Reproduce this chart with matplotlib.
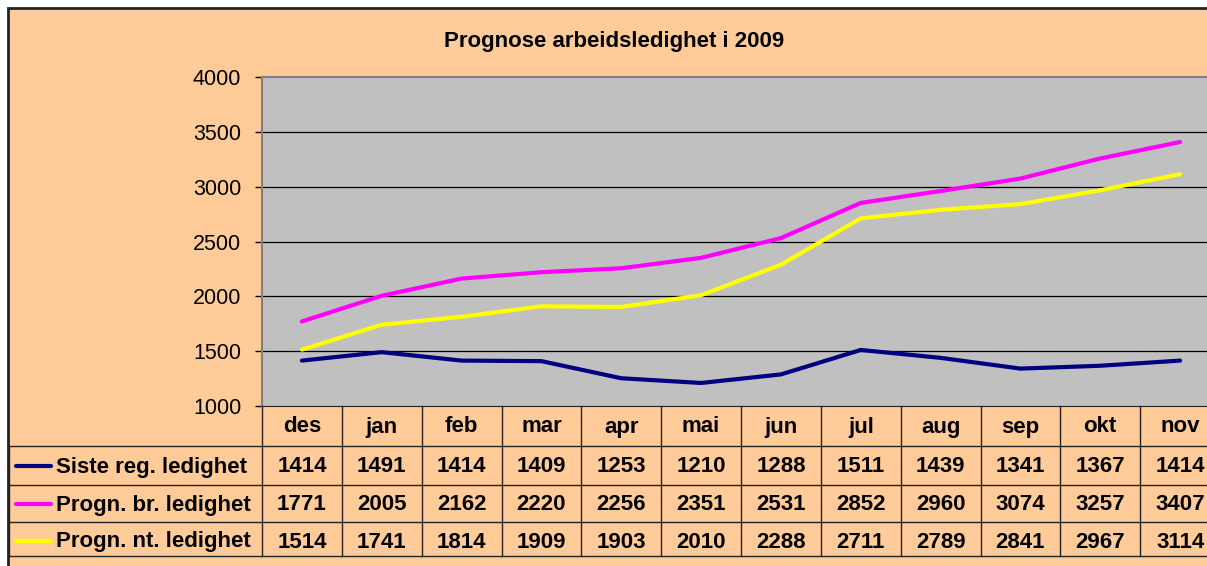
import matplotlib
matplotlib.use("Agg")
import matplotlib.pyplot as plt
import matplotlib.transforms as mtransforms
from matplotlib.lines import Line2D
from matplotlib.patches import Rectangle

# data
months = ["des", "jan", "feb", "mar", "apr", "mai", "jun", "jul", "aug", "sep", "okt", "nov"]
siste_reg = [1414, 1491, 1414, 1409, 1253, 1210, 1288, 1511, 1439, 1341, 1367, 1414]
progn_br = [1771, 2005, 2162, 2220, 2256, 2351, 2531, 2852, 2960, 3074, 3257, 3407]
progn_nt = [1514, 1741, 1814, 1909, 1903, 2010, 2288, 2711, 2789, 2841, 2967, 3114]
series_names = ["Siste reg. ledighet", "Progn. br. ledighet", "Progn. nt. ledighet"]
series_colors = ["#000080", "#FF00FF", "#FFFF00"]
title = "Prognose arbeidsledighet i 2009"

plt.rcParams['font.family'] = ['Liberation Sans', 'DejaVu Sans']

W, H = 1207, 566
fig = plt.figure(figsize=(W / 100, H / 100), dpi=100, facecolor="white")

def fx(px):
    return px / W

def fy(py):
    return 1 - py / H

# outer chart frame (cropped on the right / bottom)
fig.patches.append(Rectangle((fx(8), fy(600)), fx(1260 - 8), (600 - 8) / H,
                             transform=fig.transFigure, facecolor="#FFCC99",
                             edgecolor="#222222", linewidth=2, zorder=-5))

ax_top, ax_bot, ax_left, ax_right = 77, 406, 262, 1220
ax = fig.add_axes([fx(ax_left), fy(ax_bot), (ax_right - ax_left) / W, (ax_bot - ax_top) / H])
ax.set_facecolor("#C0C0C0")

x = list(range(len(months)))
for vals, col in zip([siste_reg, progn_br, progn_nt], series_colors):
    ax.plot(x, vals, color=col, linewidth=3, solid_capstyle="round", zorder=3)

ax.set_xlim(-0.5, len(months) - 0.5)
ax.set_ylim(1000, 4000)
ax.set_yticks(range(1000, 4001, 500))
ax.tick_params(axis="y", labelsize=15.5, length=5, width=1, pad=10, colors="black")
ax.set_xticks([])
for yv in range(1500, 4000, 500):
    ax.axhline(yv, color="black", linewidth=0.9, zorder=1)
for side in ["top", "left"]:
    ax.spines[side].set_color("#808080")
    ax.spines[side].set_linewidth(1.5)
ax.spines["right"].set_visible(False)
ax.spines["bottom"].set_color("#222222")

fig.text(fx(614), fy(42), title, ha="center", va="center", fontsize=16, fontweight="bold")

# data table under the axes
def ay(py):
    return (ax_bot - py) / (ax_bot - ax_top)

blend = mtransforms.blended_transform_factory(ax.transData, ax.transAxes)
row_lines = [446, 485, 522, 556]
lc = "#222222"

for py in row_lines:
    fig.add_artist(Line2D([fx(9), fx(1240)], [fy(py), fy(py)], transform=fig.transFigure,
                          color=lc, linewidth=1))
# left spine continues through the table, plus left border of legend column
fig.add_artist(Line2D([fx(ax_left), fx(ax_left)], [fy(ax_bot), fy(556)], transform=fig.transFigure,
                      color=lc, linewidth=1))
fig.add_artist(Line2D([fx(9), fx(9)], [fy(446), fy(556)], transform=fig.transFigure,
                      color=lc, linewidth=1))
for i in range(1, len(months)):
    ax.add_line(Line2D([i - 0.5, i - 0.5], [0, ay(556)], transform=blend,
                       color=lc, linewidth=1, clip_on=False))

cell_fs = 16
for i, m in enumerate(months):
    ax.text(i, ay(427), m, transform=blend, ha="center", va="center",
            fontsize=cell_fs, fontweight="bold", clip_on=False)

row_centers = [467, 505, 542]
for vals, name, col, yc in zip([siste_reg, progn_br, progn_nt], series_names, series_colors, row_centers):
    for i, v in enumerate(vals):
        ax.text(i, ay(yc), str(v), transform=blend, ha="center", va="center",
                fontsize=cell_fs, fontweight="bold", clip_on=False)
    fig.add_artist(Line2D([fx(16), fx(51)], [fy(yc - 1), fy(yc - 1)], transform=fig.transFigure,
                          color=col, linewidth=3, solid_capstyle="round"))
    fig.text(fx(56), fy(yc), name, ha="left", va="center", fontsize=cell_fs, fontweight="bold")

fig.savefig("out.png", dpi=100)
